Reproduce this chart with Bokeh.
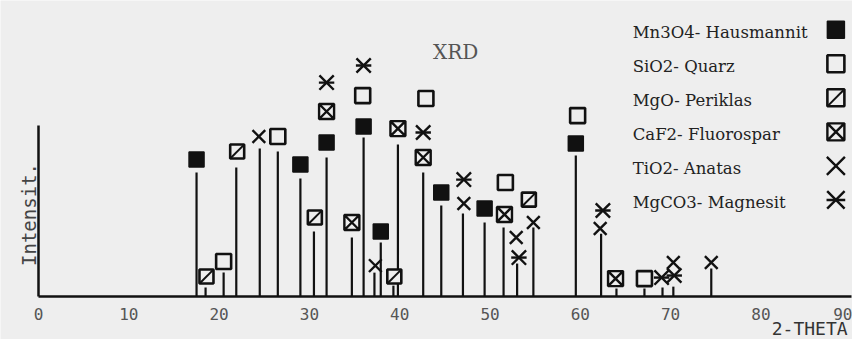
import numpy as np
from bokeh.plotting import figure
from bokeh.models import Range1d, FixedTicker, Label, ColumnDataSource
from bokeh.core.properties import value
from bokeh.embed import file_html
from bokeh.resources import INLINE

# ---- data (2-theta in degrees, intensity on a 0-100 scale) ----
peak_theta = [17.5, 18.5, 20.5, 21.9, 24.5, 26.5, 29.0, 30.5, 31.9, 34.7, 36.0, 37.2, 37.9,
              39.3, 39.8, 42.6, 44.6, 47.0, 49.4, 51.5, 53.0, 54.8, 59.5, 62.3, 64.0, 67.1,
              69.1, 70.3, 74.5]
peak_intensity = [72.5, 5.3, 14.0, 75.4, 86.5, 84.8, 69.0, 38.0, 81.3, 34.5, 93.0, 14.0, 31.6,
                  6.4, 88.9, 72.5, 53.2, 48.5, 43.3, 40.4, 19.3, 40.4, 82.5, 36.8, 4.7, 4.7,
                  5.3, 5.8, 16.4]

phase_names = ["Mn3O4- Hausmannit", "SiO2- Quarz", "MgO- Periklas",
               "CaF2- Fluorospar", "TiO2- Anatas", "MgCO3- Magnesit"]

mn3o4_theta = [17.5, 29.0, 31.9, 36.0, 37.9, 44.6, 49.4, 59.5]
mn3o4_level = [80.1, 77.2, 90.1, 99.4, 38.0, 60.8, 51.5, 89.5]

sio2_theta = [20.5, 26.5, 35.9, 42.9, 51.7, 59.7, 67.1]
sio2_level = [20.5, 93.6, 117.5, 115.8, 66.7, 105.8, 10.5]

mgo_theta = [18.6, 22.0, 30.6, 39.4, 54.3]
mgo_level = [11.7, 84.8, 46.2, 11.7, 56.7]

caf2_theta = [31.9, 34.7, 39.8, 42.6, 51.6, 63.9]
caf2_level = [108.2, 43.3, 98.2, 81.3, 48.0, 10.5]

tio2_theta = [24.4, 37.3, 47.1, 52.9, 54.8, 62.2, 70.3, 74.5]
tio2_level = [93.6, 18.1, 54.4, 34.5, 43.3, 39.8, 19.9, 19.9]

mgco3_theta = [31.9, 36.0, 42.6, 47.1, 53.2, 62.5, 69.0, 70.4]
mgco3_level = [125.1, 135.1, 95.9, 68.4, 22.8, 50.3, 11.1, 12.3]

x_ticks = [0, 10, 20, 30, 40, 50, 60, 70, 80, 90]

# ---- styling / layout ----
BG = "#eeeeee"
INK = "#111111"

p = figure(width=852, height=339,
           x_range=Range1d(-4.21, 90.14), y_range=Range1d(-25.1, 173.1),
           output_backend="svg", toolbar_location=None,
           min_border_left=0, min_border_right=0, min_border_top=0, min_border_bottom=0)
p.background_fill_color = BG
p.border_fill_color = BG
p.outline_line_color = None
p.xgrid.visible = False
p.ygrid.visible = False

# x axis drawn inside the frame at intensity 0
p.xaxis.fixed_location = 0
p.xaxis.ticker = FixedTicker(ticks=x_ticks)
p.xaxis.bounds = (0, 90)
p.xaxis.axis_line_width = 2.5
p.xaxis.axis_line_color = INK
p.xaxis.major_tick_out = 0
p.xaxis.major_tick_in = 0
p.xaxis.minor_tick_out = 0
p.xaxis.minor_tick_in = 0
p.xaxis.major_label_standoff = 11
p.xaxis.major_label_text_font = "DejaVu Sans Mono"
p.xaxis.major_label_text_font_size = "16px"
p.xaxis.major_label_text_color = "#555555"

# y axis (line only) at 2-theta 0
p.yaxis.fixed_location = 0
p.yaxis.ticker = FixedTicker(ticks=[])
p.yaxis.bounds = (0, 100)
p.yaxis.axis_line_width = 2.5
p.yaxis.axis_line_color = INK
p.yaxis.major_tick_out = 0
p.yaxis.minor_tick_out = 0
p.yaxis.major_label_text_font_size = "0px"

# peak lines
src = ColumnDataSource(dict(x=peak_theta, top=peak_intensity, base=[0] * len(peak_theta)))
p.segment(x0="x", y0="base", x1="x", y1="top", source=src,
          line_color=INK, line_width=2.2, line_cap="butt")


def draw_phase(kind, xs, ys, size):
    if kind == "filled":
        p.scatter(xs, ys, marker="square", size=size, fill_color=INK,
                  line_color=INK, line_width=1.5)
    elif kind == "open":
        p.scatter(xs, ys, marker="square", size=size, fill_color=BG,
                  line_color=INK, line_width=2.6)
    elif kind == "diag":
        p.scatter(xs, ys, marker="square", size=size, fill_color=BG,
                  line_color=INK, line_width=2.6)
        p.scatter(xs, ys, marker="dash", size=size * 1.25, angle=np.pi / 4,
                  line_color=INK, line_width=2.0)
    elif kind == "boxx":
        p.scatter(xs, ys, marker="square_x", size=size, fill_color=BG,
                  line_color=INK, line_width=2.4)
    elif kind == "x":
        p.scatter(xs, ys, marker="x", size=size * 1.5, line_color=INK, line_width=2.4)
    elif kind == "star":
        p.scatter(xs, ys, marker="x", size=size * 1.45, line_color=INK, line_width=2.4)
        p.scatter(xs, ys, marker="dash", size=size * 1.1, line_color=INK, line_width=2.4)


phase_kinds = ["filled", "open", "diag", "boxx", "x", "star"]
phase_data = [(mn3o4_theta, mn3o4_level), (sio2_theta, sio2_level), (mgo_theta, mgo_level),
              (caf2_theta, caf2_level), (tio2_theta, tio2_level), (mgco3_theta, mgco3_level)]
phase_sizes = [15, 15, 14, 15, 12, 14]

for kind, (xs, ys), sz in zip(phase_kinds, phase_data, phase_sizes):
    draw_phase(kind, xs, ys, sz)

# hand-made legend: label on the left, symbol on the right
LEG_TEXT_X = 65.8
LEG_MARK_X = 88.3
LEG_TOP = 154.5
LEG_STEP = 19.9
leg_y = [LEG_TOP - i * LEG_STEP for i in range(len(phase_names))]
p.text(x=[LEG_TEXT_X] * len(phase_names), y=leg_y, text=phase_names,
       text_font=value("DejaVu Serif"), text_font_size="16.5px", text_color="#222222",
       text_align="left", text_baseline="middle")
for kind, yy in zip(phase_kinds, leg_y):
    draw_phase(kind, [LEG_MARK_X], [yy + 1.5], 17)

# titles / axis labels
p.add_layout(Label(x=46.2, y=142.7, text="XRD", text_font="DejaVu Serif",
                   text_font_size="20px", text_color="#555555",
                   text_align="center", text_baseline="middle"))
p.add_layout(Label(x=89.6, y=-18.5, text="2-THETA", text_font="DejaVu Sans Mono",
                   text_font_size="18px", text_color="#333333",
                   text_align="right", text_baseline="middle"))
p.add_layout(Label(x=-1.1, y=48, text="Intensit.", text_font="DejaVu Sans Mono",
                   text_font_size="19px", text_color="#444444", angle=np.pi / 2,
                   text_align="center", text_baseline="middle"))

open("out.html", "w").write(file_html(p, INLINE))
